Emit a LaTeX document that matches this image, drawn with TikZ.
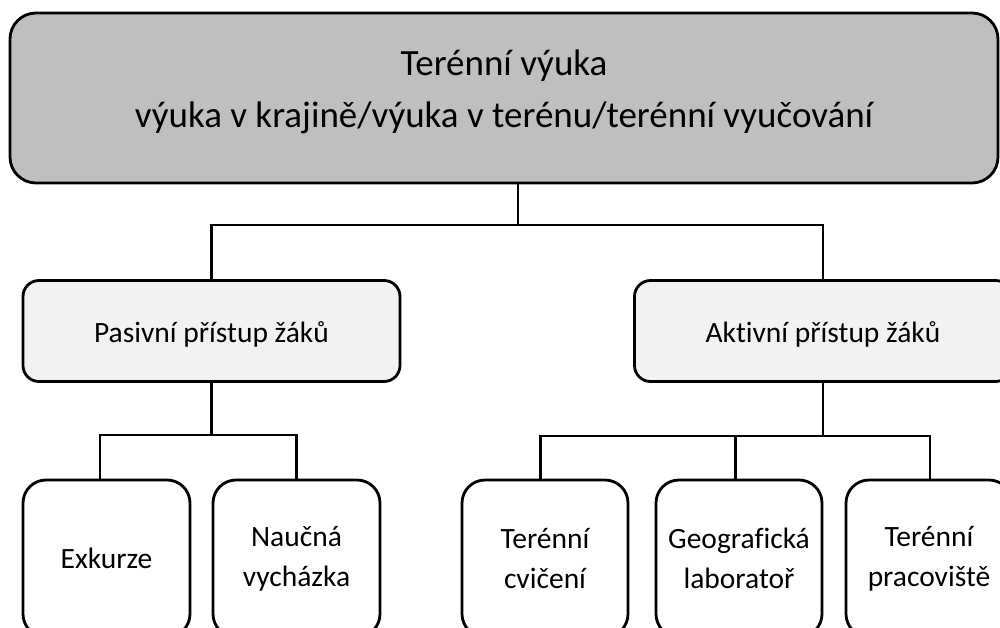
\documentclass[tikz,border=0pt]{standalone}
\usepackage{fontspec}
\setmainfont{Carlito}[Ligatures=NoCommon]
\definecolor{topfill}{HTML}{BFBFBF}
\definecolor{midfill}{HTML}{F2F2F2}
\begin{document}
\begin{tikzpicture}[x=1pt,y=-1pt,
  every node/.style={inner sep=0pt, outer sep=0pt},
  topbox/.style={draw=black, line width=2.8pt, fill=topfill, rounded corners=26pt},
  titletext/.style={align=center, font=\fontsize{37}{52}\selectfont},
  midbox/.style={draw=black, line width=2.8pt, fill=midfill, rounded corners=16pt,
    minimum width=377pt, minimum height=101pt, text height=24pt, text depth=2pt,
    font=\fontsize{29.5}{40}\selectfont},
  leafbox/.style={draw=black, line width=2.8pt, fill=white, rounded corners=23pt,
    minimum width=166pt, minimum height=157pt, align=center, font=\fontsize{29.5}{40}\selectfont},
  conn/.style={draw=black, line width=2.8pt}]
\useasboundingbox (0,0) rectangle (1000,628);
\clip (0,0) rectangle (1000,628);
\fill[white] (0,0) rectangle (1000,628);

\node[topbox, minimum width=988pt, minimum height=170pt] (top) at (504,98) {};
\node[titletext] (toptext) at (504,92)
  {Terénní výuka\\výuka v krajině/výuka v terénu/terénní vyučování};

\node[midbox] (pas) at (211.5,331) {Pasivní přístup žáků};
\node[midbox] (akt) at (823,331) {Aktivní přístup žáků};

\node[leafbox, minimum width=167pt] (exk) at (106.5,558.5) {Exkurze};
\node[leafbox, minimum width=167pt] (nau) at (296.5,558.5) {Naučná\\vycházka};
\node[leafbox] (ter) at (545,558.5) {Terénní\\cvičení};
\node[leafbox] (geo) at (739,558.5) {Geografická\\laboratoř};
\node[leafbox] (pra) at (929,558.5) {Terénní\\pracoviště};

\coordinate (j1) at (518,225);
\coordinate (j2) at (212,435);
\coordinate (j3) at (823,436);

\draw[conn] (top.south -| j1) -- (j1);
\draw[conn] (pas.north) |- (j1) -| (akt.north);

\draw[conn] (pas.south) -- (pas.south |- j2);
\draw[conn] ([xshift=-6.5pt]exk.north) |- (j2) -| (nau.north);

\draw[conn] (akt.south) -- (akt.south |- j3);
\draw[conn] ([xshift=-4.3pt]ter.north) |- (j3) -| ([xshift=1pt]pra.north);
\draw[conn] ([xshift=-3.3pt]geo.north) -- ([xshift=-3.3pt]geo.north |- j3);
\end{tikzpicture}
\end{document}
